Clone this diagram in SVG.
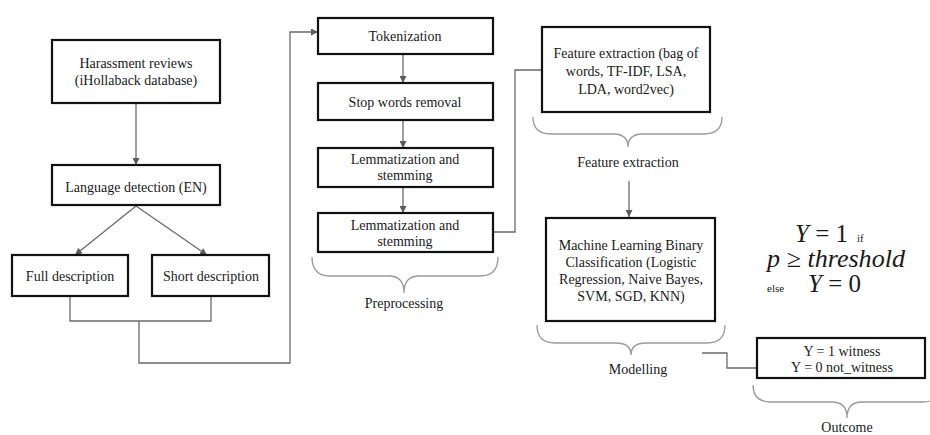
<svg xmlns="http://www.w3.org/2000/svg" width="930" height="435" viewBox="0 0 930 435">
<defs>
<marker id="arr" viewBox="0 0 8 8" refX="8" refY="4" markerWidth="7" markerHeight="7" orient="auto" markerUnits="userSpaceOnUse">
<path d="M0,0 L8,4 L0,8 Z" fill="#5a5a5a"/>
</marker>
<style>
.box{fill:#fff;stroke:#111;stroke-width:2.2}
text{font-family:'Liberation Serif','DejaVu Serif','Times New Roman',serif}
.t{font-size:14px;fill:#1a1a1a;text-anchor:middle}
.c{fill:none;stroke:#6a6a6a;stroke-width:1.3}
.br{fill:none;stroke:#9a9a9a;stroke-width:1.3}
.m{font-size:25px;fill:#1a1a1a}
.s{font-size:11px;fill:#1a1a1a}
</style>
</defs>
<rect width="930" height="435" fill="#fff"/>

<g id="connectors">
<path class="c" d="M136,103 V165" marker-end="url(#arr)"/>
<path class="c" d="M136,206 L75,255" marker-end="url(#arr)"/>
<path class="c" d="M136,206 L207,255" marker-end="url(#arr)"/>
<path class="c" d="M70,296 V321 H211 V296"/>
<path class="c" d="M139,321 V363 H290 V32 H318" marker-end="url(#arr)"/>
<path class="c" d="M403,54 V83" marker-end="url(#arr)"/>
<path class="c" d="M403,120 V148" marker-end="url(#arr)"/>
<path class="c" d="M403,187 V213" marker-end="url(#arr)"/>
<path class="c" d="M493,232 H515 V70 H542"/>
<path class="c" d="M629,181 V217" marker-end="url(#arr)"/>
<path class="c" d="M702,353 H727 V368 H757"/>
</g>

<g id="braces">
<path class="br" d="M312,257 Q312,276 330,276 L389,276 Q404,276 404,293 Q404,276 419,276 L480,276 Q498,276 498,257"/>
<path class="br" d="M533,117 Q533,134 551,134 L613,134 Q628,134 628,147 Q628,134 643,134 L704,134 Q722,134 722,117"/>
<path class="br" d="M537,325 Q537,343 555,343 L616,343 Q631,343 631,355 Q631,343 646,343 L707,343 Q725,343 725,325"/>
<path class="br" d="M753,385 Q753,402 771,402 L832,402 Q847,402 847,418 Q847,402 862,402 L923,402 Q941,402 941,385"/>
</g>

<g id="n-harassment">
<rect class="box" x="52" y="40" width="168" height="63"/>
<text class="t" x="136" y="68">Harassment reviews</text>
<text class="t" x="136" y="85">(iHollaback  database)</text>
</g>
<g id="n-language">
<rect class="box" x="52" y="165" width="168" height="40"/>
<text class="t" x="136" y="192">Language detection (EN)</text>
</g>
<g id="n-full">
<rect class="box" x="12" y="255" width="116" height="41"/>
<text class="t" x="70" y="281">Full  description</text>
</g>
<g id="n-short">
<rect class="box" x="152" y="255" width="117" height="41"/>
<text class="t" x="211" y="281">Short description</text>
</g>
<g id="n-token">
<rect class="box" x="318" y="18" width="175" height="36"/>
<text class="t" x="405" y="41">Tokenization</text>
</g>
<g id="n-stop">
<rect class="box" x="318" y="83" width="175" height="37"/>
<text class="t" x="405" y="107">Stop words removal</text>
</g>
<g id="n-lemm1">
<rect class="box" x="318" y="148" width="175" height="39"/>
<text class="t" x="405" y="164">Lemmatization  and</text>
<text class="t" x="405" y="180">stemming</text>
</g>
<g id="n-lemm2">
<rect class="box" x="318" y="213" width="175" height="39"/>
<text class="t" x="405" y="230">Lemmatization  and</text>
<text class="t" x="405" y="246">stemming</text>
</g>
<text class="t" x="404" y="308">Preprocessing</text>

<g id="n-feature">
<rect class="box" x="542" y="27" width="168" height="85"/>
<text class="t" x="626" y="58">Feature extraction (bag of</text>
<text class="t" x="626" y="76">words, TF-IDF,  LSA,</text>
<text class="t" x="626" y="94">LDA, word2vec)</text>
</g>
<text class="t" x="628" y="167">Feature extraction</text>

<g id="n-ml">
<rect class="box" x="546" y="218" width="169" height="103"/>
<text class="t" x="631" y="250">Machine Learning  Binary</text>
<text class="t" x="631" y="267">Classification  (Logistic</text>
<text class="t" x="631" y="284">Regression, Naive Bayes,</text>
<text class="t" x="631" y="301">SVM,  SGD,  KNN)</text>
</g>
<text class="t" x="638" y="374">Modelling</text>

<g id="formula">
<text class="m" x="795" y="242"><tspan font-style="italic">Y</tspan> = 1</text>
<text class="s" x="857" y="242">if</text>
<text class="m" x="767" y="267" font-style="italic" textLength="138" lengthAdjust="spacingAndGlyphs">p ≥ threshold</text>
<text class="s" x="767" y="292">else</text>
<text class="m" x="808" y="292"><tspan font-style="italic">Y</tspan> = 0</text>
</g>

<g id="n-outcome">
<rect class="box" x="757" y="338" width="168" height="40"/>
<text class="t" x="842" y="356">Y = 1 witness</text>
<text class="t" x="842" y="372">Y = 0 not_witness</text>
</g>
<text class="t" x="847" y="432">Outcome</text>
</svg>
